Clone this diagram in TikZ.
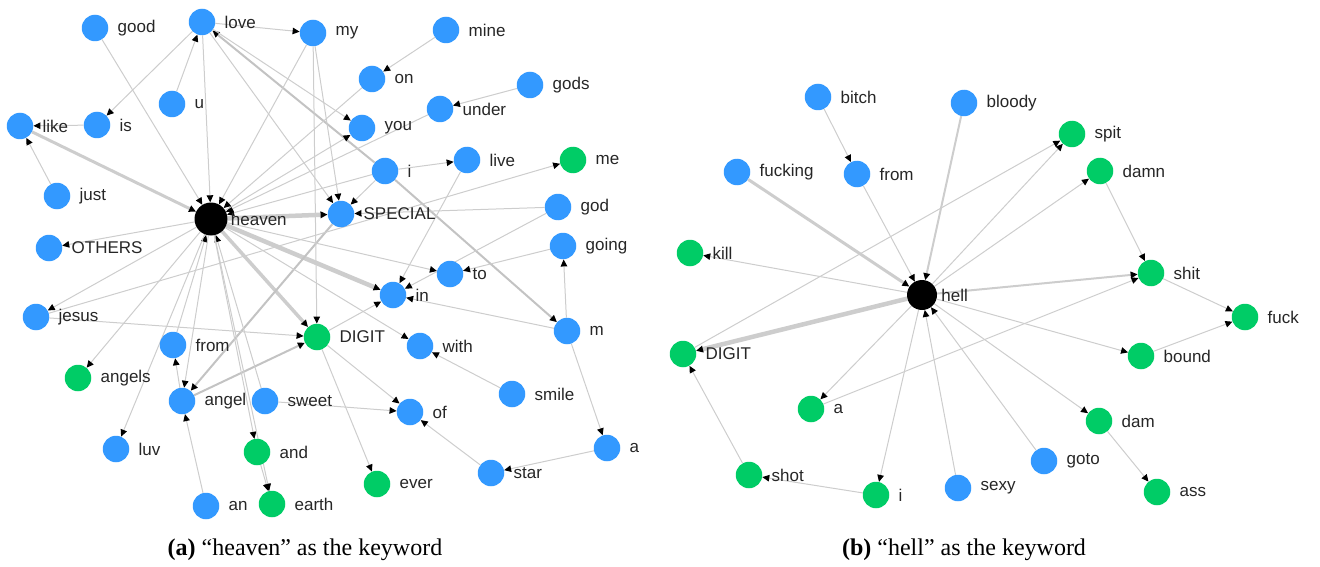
\documentclass[tikz,border=0pt]{standalone}
\usepackage{fontspec}
\setmainfont{Liberation Serif}
\newfontfamily\wordfont{Liberation Sans}
\usetikzlibrary{arrows.meta,backgrounds}
\definecolor{wblue}{RGB}{51,153,255}
\definecolor{wgreen}{RGB}{0,204,102}
\definecolor{egray}{RGB}{205,205,205}
\tikzset{
  word/.style={circle, minimum size=26.5pt, inner sep=0pt, draw=none},
  bw/.style={word, fill=wblue},
  gw/.style={word, fill=wgreen},
  kw/.style={circle, minimum size=#1, inner sep=0pt, fill=black},
  lab/.style={font=\wordfont\fontsize{17}{20}\selectfont, inner sep=0pt, text=black!85},
  tip/.style={-{Triangle[black,length=7pt,width=6.5pt]}},
  e/.style={draw=egray, line width=1pt, tip},
  em/.style={draw=egray!95!black, line width=2pt, tip},
  et/.style={draw=egray, line width=4.5pt, tip},
  captext/.style={font=\fontsize{24}{28}\selectfont, inner sep=0pt},
}
\begin{document}
\begin{tikzpicture}[x=1pt,y=-1pt,label distance=9pt]
\useasboundingbox (0,0) rectangle (1320,567);

% ---------- keyword "heaven" ----------
\node[kw=33pt, label={[lab,label distance=3pt]right:heaven}] (heaven) at (211,219) {};
\node[bw, label={[lab]right:good}] (good) at (95,28) {};
\node[bw, label={[lab]right:love}] (love) at (202,22) {};
\node[bw, label={[lab]right:my}] (my) at (313,33) {};
\node[bw, label={[lab]right:mine}] (mine) at (446,30) {};
\node[bw, label={[lab]right:on}] (on) at (372,79) {};
\node[bw, label={[lab]right:gods}] (gods) at (530,85) {};
\node[bw, label={[lab]right:under}] (under) at (440,109) {};
\node[bw, label={[lab]right:u}] (u) at (172,104) {};
\node[bw, label={[lab]right:is}] (is) at (97,125) {};
\node[bw, label={[lab]right:like}] (like) at (20,126) {};
\node[bw, label={[lab]right:you}] (you) at (362,128) {};
\node[bw, label={[lab]right:i}] (i) at (385,171) {};
\node[bw, label={[lab]right:live}] (live) at (467,160) {};
\node[gw, label={[lab]right:me}] (me) at (573,160) {};
\node[bw, label={[lab]right:just}] (just) at (57,196) {};
\node[bw, label={[lab]right:SPECIAL}] (special) at (341,214) {};
\node[bw, label={[lab]right:god}] (god) at (558,207) {};
\node[bw, label={[lab]right:OTHERS}] (others) at (49,248) {};
\node[bw, label={[lab]right:going}] (going) at (563,246) {};
\node[bw, label={[lab]right:to}] (to) at (450,274) {};
\node[bw, label={[lab]right:in}] (in) at (393,295) {};
\node[bw, label={[lab]right:jesus}] (jesus) at (36,317) {};
\node[bw, label={[lab]right:m}] (m) at (567,331) {};
\node[gw, label={[lab]right:DIGIT}] (digit) at (317,337) {};
\node[bw, label={[lab]right:from}] (from) at (173,345) {};
\node[bw, label={[lab]right:with}] (with) at (420,346) {};
\node[gw, label={[lab]right:angels}] (angels) at (78,378) {};
\node[bw, label={[lab]right:angel}] (angel) at (182,401) {};
\node[bw, label={[lab]right:sweet}] (sweet) at (265,401) {};
\node[bw, label={[lab]right:smile}] (smile) at (512,394) {};
\node[bw, label={[lab]right:of}] (of) at (410,412) {};
\node[bw, label={[lab]right:a}] (a) at (607,448) {};
\node[bw, label={[lab]right:luv}] (luv) at (116,449) {};
\node[gw, label={[lab]right:and}] (and) at (257,452) {};
\node[bw, label={[lab]right:star}] (star) at (491,473) {};
\node[gw, label={[lab]right:ever}] (ever) at (377,484) {};
\node[bw, label={[lab]right:an}] (an) at (206,506) {};
\node[gw, label={[lab]right:earth}] (earth) at (272,504) {};

\begin{scope}[on background layer]
  % heavy links of the keyword
  \draw[et] (heaven) -- (special);
  \draw[et] (heaven) -- (in);
  \draw[e, line width=3.5pt] (heaven) -- (digit);
  \draw[e, line width=3pt] (like) -- (heaven);
  \draw[em] (special) -- (angel);
  \draw[em] (angel) -- (digit);
  \draw[em] (i) -- (love);
  \draw[em] (i) -- (m);
  % incoming to the keyword
  \draw[e] (good) -- (heaven);
  \draw[e] (love) -- (heaven);
  \draw[e] (my) -- (heaven);
  \draw[e] (on) -- (heaven);
  \draw[e] (under) -- (heaven);
  \draw[e] (from) -- (heaven);
  \draw[e] (sweet) -- (heaven);
  \draw[e] (i) -- (heaven);
  % outgoing from the keyword
  \draw[e] (heaven) -- (others);
  \draw[e] (heaven) -- (jesus);
  \draw[e] (heaven) -- (angels);
  \draw[e] (heaven) -- (luv);
  \draw[e] (heaven) -- (angel);
  \draw[e] (heaven) -- (and);
  \draw[e] (heaven) -- (earth);
  \draw[e] (heaven) -- (you);
  \draw[e] (heaven) -- (with);
  \draw[e] (heaven) -- (to);
  % other word links
  \draw[e] (love) -- (my);
  \draw[e] (love) -- (is);
  \draw[e] (u) -- (love);
  \draw[e] (is) -- (like);
  \draw[e] (just) -- (like);
  \draw[e] (love) -- (you);
  \draw[e] (love) -- (special);
  \draw[e] (my) -- (special);
  \draw[e] (my) -- (digit);
  \draw[e] (mine) -- (on);
  \draw[e] (gods) -- (under);
  \draw[e] (i) -- (live);
  \draw[e] (i) -- (special);
  \draw[e] (jesus) -- (me);
  \draw[e] (jesus) -- (digit);
  \draw[e] (angel) -- (from);
  \draw[e] (an) -- (angel);
  \draw[e] (and) -- (earth);
  \draw[e] (sweet) -- (of);
  \draw[e] (digit) -- (in);
  \draw[e] (digit) -- (ever);
  \draw[e] (digit) -- (of);
  \draw[e] (star) -- (of);
  \draw[e] (a) -- (star);
  \draw[e] (m) -- (a);
  \draw[e] (m) -- (going);
  \draw[e] (m) -- (in);
  \draw[e] (smile) -- (with);
  \draw[e] (going) -- (to);
  \draw[e] (god) -- (in);
  \draw[e] (live) -- (in);
  \draw[e] (god) -- (special);
\end{scope}

% ---------- keyword "hell" ----------
\node[kw=30pt, label={[lab,label distance=4pt]right:hell}] (hell) at (922,295) {};
\node[bw, label={[lab]right:bitch}] (bitch) at (818,97) {};
\node[bw, label={[lab]right:bloody}] (bloody) at (964,103) {};
\node[gw, label={[lab]right:spit}] (spit) at (1072,134) {};
\node[bw, label={[lab]right:fucking}] (fucking) at (737,172) {};
\node[bw, label={[lab]right:from}] (hfrom) at (857,174) {};
\node[gw, label={[lab]right:damn}] (damn) at (1100,171) {};
\node[gw, label={[lab]right:kill}] (kill) at (690,253) {};
\node[gw, label={[lab]right:shit}] (shit) at (1151,273) {};
\node[gw, label={[lab]right:fuck}] (fuck) at (1245,317) {};
\node[gw, label={[lab]right:DIGIT}] (hdigit) at (683,354) {};
\node[gw, label={[lab]right:bound}] (bound) at (1141,356) {};
\node[gw, label={[lab]right:a}] (ha) at (811,409) {};
\node[gw, label={[lab]right:dam}] (dam) at (1099,421) {};
\node[bw, label={[lab]right:goto}] (goto) at (1044,461) {};
\node[gw, label={[lab]right:shot}] (shot) at (749,475) {};
\node[gw, label={[lab]right:i}] (hi) at (876,495) {};
\node[bw, label={[lab]right:sexy}] (sexy) at (958,488) {};
\node[gw, label={[lab]right:ass}] (ass) at (1157,492) {};

\begin{scope}[on background layer]
  \draw[et] (hell) -- (hdigit);
  \draw[e, line width=3pt] (fucking) -- (hell);
  \draw[e, line width=2pt] (bloody) -- (hell);
  \draw[e, line width=2pt] (hell) -- (shit);
  \draw[e] (bitch) -- (hfrom);
  \draw[e] (hfrom) -- (hell);
  \draw[e] (hell) -- (kill);
  \draw[e] (hdigit) -- (spit);
  \draw[e] (hell) -- (spit);
  \draw[e] (hell) -- (damn);
  \draw[e] (damn) -- (shit);
  \draw[e] (ha) -- (shit);
  \draw[e] (shit) -- (fuck);
  \draw[e] (bound) -- (fuck);
  \draw[e] (hell) -- (bound);
  \draw[e] (hell) -- (dam);
  \draw[e] (dam) -- (ass);
  \draw[e] (goto) -- (hell);
  \draw[e] (sexy) -- (hell);
  \draw[e] (hell) -- (hi);
  \draw[e] (hell) -- (ha);
  \draw[e] (hi) -- (shot);
  \draw[e] (shot) -- (hdigit);
\end{scope}

% ---------- captions ----------
\node[captext] (capa) at (305,550) {\textbf{(a)} “heaven” as the keyword};
\node[captext] (capb) at (964,550) {\textbf{(b)} “hell” as the keyword};
\end{tikzpicture}
\end{document}
